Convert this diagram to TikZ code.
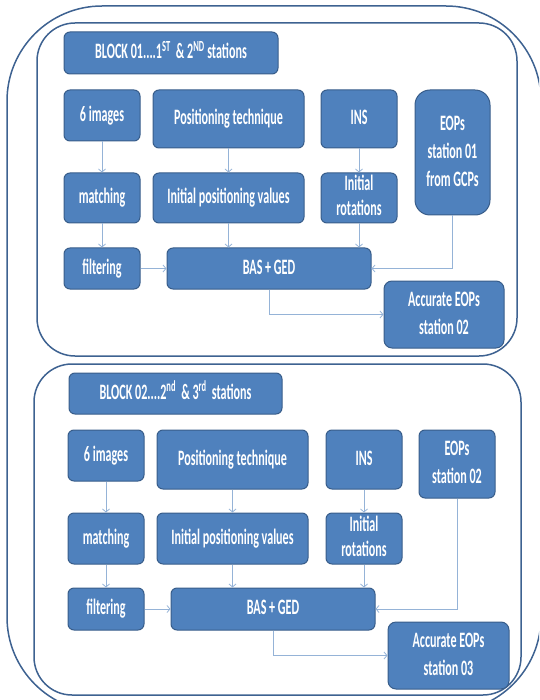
\documentclass[tikz,border=0pt]{standalone}
\usepackage{fontspec}
\setmainfont{Carlito}
\usetikzlibrary{arrows.meta}
\definecolor{boxblue}{RGB}{79,129,189}
\definecolor{boxedge}{RGB}{56,93,138}
\definecolor{framedark}{RGB}{62,98,145}
\definecolor{arrowlight}{RGB}{149,179,215}
% narrow, tall lettering as in the slide
\newcommand{\squeezetext}[1]{\scalebox{0.55}[1]{\begin{tabular}{@{}c@{}}#1\end{tabular}}}

\tikzset{
  stepbox/.style={draw=boxedge, fill=boxblue, line width=1pt, rounded corners=6pt,
    text=white, font=\bfseries\fontsize{22}{28}\selectfont, inner sep=0pt},
  tightbox/.style={stepbox, font=\bfseries\fontsize{22}{25}\selectfont},
  flow/.style={draw=arrowlight, line width=0.8pt, -{Straight Barb[length=3pt,width=7pt]}},
  blockframe/.style={draw=framedark, line width=1.5pt, rounded corners=38pt},
}

\begin{document}
\begin{tikzpicture}[x=1pt,y=-1pt]
\useasboundingbox (0,0) rectangle (539,700);
\clip (0,0) rectangle (539,700);

% outer frame round both blocks
\draw[framedark, line width=1.5pt, rounded corners=95pt] (7,6) rectangle (541,712);

% BLOCK 01
\begin{scope}
\draw[blockframe] (37,23) rectangle (517,356);
\node[stepbox,minimum width=214,minimum height=42] (title1) at (171,53) {\squeezetext{BLOCK 01....1\textsuperscript{ST}~ \& 2\textsuperscript{ND} stations}};
\node[stepbox,minimum width=76,minimum height=51] (img1) at (102,115.5) {\squeezetext{6 images}};
\node[stepbox,minimum width=151,minimum height=58] (pos1) at (228.5,119) {\squeezetext{Positioning technique}};
\node[stepbox,minimum width=76,minimum height=58] (ins1) at (359,119) {\squeezetext{INS}};
\node[stepbox,rounded corners=15pt,minimum width=75,minimum height=125] (eop1) at (452.5,152.5) {\squeezetext{EOPs\\station 01\\from GCPs}};
\node[stepbox,minimum width=76,minimum height=50] (match1) at (102,198) {\squeezetext{matching}};
\node[stepbox,minimum width=151,minimum height=50] (ipv1) at (228.5,198) {\squeezetext{Initial positioning values}};
\node[tightbox,minimum width=76,minimum height=50] (rot1) at (359,198) {\squeezetext{Initial\\rotations}};
\node[stepbox,minimum width=76,minimum height=41] (filt1) at (102,268.5) {\squeezetext{filtering}};
\node[stepbox,minimum width=204,minimum height=41] (bas1) at (269,268.5) {\squeezetext{BAS + GED}};
\node[stepbox,rounded corners=8pt,minimum width=120,minimum height=67] (acc1) at (444,314.5) {\squeezetext{Accurate EOPs\\station 02}};
% arrows
\draw[flow] (img1) -- (match1);
\draw[flow] (match1) -- (filt1);
\draw[flow] (pos1) -- (ipv1);
\draw[flow] (ipv1) -- (ipv1 |- bas1.north);
\draw[flow] (ins1) -- (rot1);
\draw[flow] (rot1) -- (rot1 |- bas1.north);
\draw[flow] (filt1) -- (bas1);
\draw[flow] (eop1) |- (bas1);
\draw[flow] (bas1) |- (acc1);
\end{scope}

% BLOCK 02
\begin{scope}[shift={(4,340)}]
\draw[blockframe] (30,24) rectangle (517,355);
\node[stepbox,minimum width=213,minimum height=41] (title2) at (171.5,53.5) {\squeezetext{BLOCK 02....2\textsuperscript{nd}~ \& 3\textsuperscript{rd}~ stations}};
\node[stepbox,minimum width=76,minimum height=51] (img2) at (102,115.5) {\squeezetext{6 images}};
\node[stepbox,minimum width=151,minimum height=59] (pos2) at (228.5,119.5) {\squeezetext{Positioning technique}};
\node[stepbox,minimum width=76,minimum height=59] (ins2) at (360,119.5) {\squeezetext{INS}};
\node[stepbox,minimum width=76,minimum height=68] (eop2) at (453,124) {\squeezetext{EOPs\\station 02}};
\node[stepbox,minimum width=76,minimum height=51] (match2) at (102,198.5) {\squeezetext{matching}};
\node[stepbox,minimum width=151,minimum height=51] (ipv2) at (228.5,198.5) {\squeezetext{Initial positioning values}};
\node[tightbox,minimum width=76,minimum height=51] (rot2) at (360,198.5) {\squeezetext{Initial\\rotations}};
\node[stepbox,minimum width=76,minimum height=42] (filt2) at (102,269) {\squeezetext{filtering}};
\node[stepbox,minimum width=204,minimum height=42] (bas2) at (269,269) {\squeezetext{BAS + GED}};
\node[stepbox,rounded corners=8pt,minimum width=121,minimum height=67] (acc2) at (444.5,315.5) {\squeezetext{Accurate EOPs\\station 03}};
% arrows
\draw[flow] (img2) -- (match2);
\draw[flow] (match2) -- (filt2);
\draw[flow] (pos2) -- (ipv2);
\draw[flow] (ipv2) -- (ipv2 |- bas2.north);
\draw[flow] (ins2) -- (rot2);
\draw[flow] (rot2) -- (rot2 |- bas2.north);
\draw[flow] (filt2) -- (bas2);
\draw[flow] (eop2) |- (bas2);
\draw[flow] (bas2) |- (acc2);
\end{scope}

\end{tikzpicture}
\end{document}
